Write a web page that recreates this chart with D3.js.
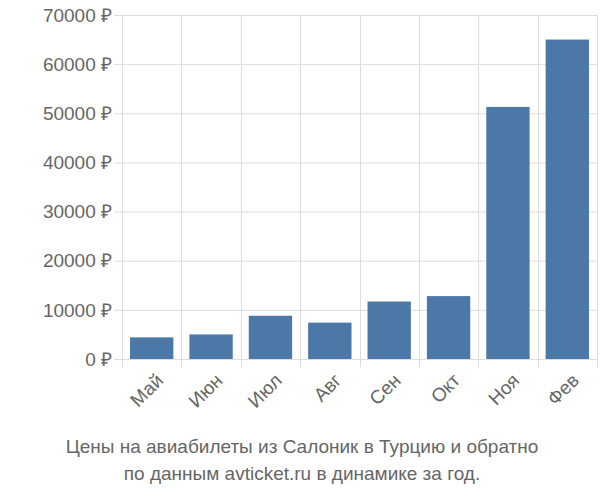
<!DOCTYPE html>
<html><head><meta charset="utf-8">
<script src="https://cdn.jsdelivr.net/npm/d3@7"></script>
<style>body{margin:0;background:#fff}</style>
</head><body><svg id="chart"></svg>
<script>
const months = ["Май", "Июн", "Июл", "Авг", "Сен", "Окт", "Ноя", "Фев"];
const prices = [4400, 5000, 8800, 7400, 11700, 12800, 51300, 65000];
const yTicks = [0, 10000, 20000, 30000, 40000, 50000, 60000, 70000];
const titleLines = ["Цены на авиабилеты из Салоник в Турцию и обратно", "по данным avticket.ru в динамике за год."];

const W = 600, H = 500, mLeft = 122, mRight = 597, mTop = 15, mBottom = 359;
const svg = d3.select("#chart").attr("width", W).attr("height", H)
  .style("font-family", "Liberation Sans, Arial, sans-serif");

const x = d3.scaleBand(months, [mLeft, mRight]).paddingInner(0.27).paddingOuter(0.135);
const y = d3.scaleLinear([0, 70000], [mBottom, mTop]);
const step = x.step();

// grid
const g = svg.append("g").attr("stroke", "#ddd").attr("stroke-width", 1);
yTicks.forEach(t => g.append("line").attr("x1", mLeft - 8).attr("x2", mRight)
  .attr("y1", y(t) + 0.5).attr("y2", y(t) + 0.5));
for (let i = 0; i <= months.length; i++) {
  const xx = Math.round(mLeft + i * step) + 0.5;
  g.append("line").attr("x1", xx).attr("x2", xx).attr("y1", mTop).attr("y2", mBottom + 8);
}

svg.append("g").selectAll("rect").data(months).enter().append("rect")
  .attr("x", d => x(d)).attr("width", x.bandwidth())
  .attr("y", (d, i) => y(prices[i])).attr("height", (d, i) => mBottom - y(prices[i]))
  .attr("fill", "#4c78a8");

svg.append("g").selectAll("text").data(yTicks).enter().append("text")
  .attr("x", mLeft - 10).attr("y", d => y(d)).attr("dy", "0.35em")
  .attr("text-anchor", "end").attr("font-size", 19).attr("fill", "#666")
  .text(d => d + " ₽");

svg.append("g").selectAll("text").data(months).enter().append("text")
  .attr("transform", d => `translate(${x(d) + x.bandwidth() / 2 + 8},${mBottom + 18}) rotate(-45)`)
  .attr("text-anchor", "end").attr("dy", "0.35em").attr("font-size", 19).attr("fill", "#666")
  .text(d => d);

svg.append("g").selectAll("text").data(titleLines).enter().append("text")
  .attr("x", W / 2 + 2).attr("y", (d, i) => 453 + i * 27).attr("text-anchor", "middle")
  .attr("font-size", 19).attr("fill", "#666").text(d => d);
</script></body></html>
